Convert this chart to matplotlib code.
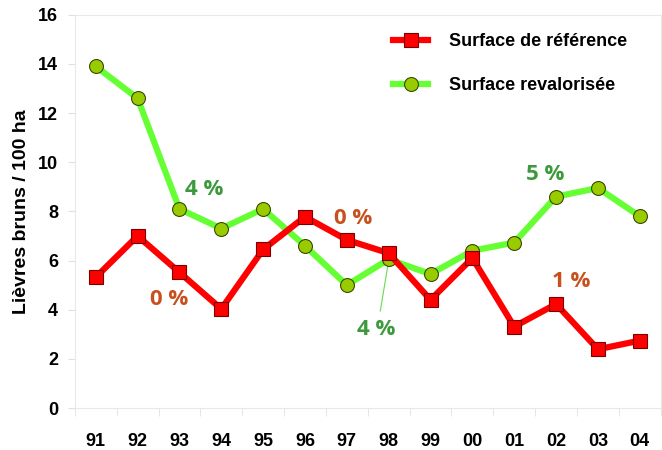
import matplotlib
matplotlib.use("Agg")
import matplotlib.pyplot as plt

# data
years = ['91', '92', '93', '94', '95', '96', '97', '98', '99', '00', '01', '02', '03', '04']
reference = [5.32, 7.0, 5.52, 4.03, 6.45, 7.78, 6.84, 6.3, 4.4, 6.1, 3.31, 4.23, 2.39, 2.74]
revalued = [13.9, 12.6, 8.1, 7.3, 8.1, 6.6, 5.0, 6.05, 5.45, 6.4, 6.73, 8.6, 8.95, 7.8]

# percentage labels: (text, x index, y value, colour)
pct_labels = [('4 %', 2.6, 8.9, '#3c9a3c'),
              ('0 %', 1.75, 4.4, '#c8501e'),
              ('0 %', 6.15, 7.7, '#c8501e'),
              ('4 %', 6.7, 3.2, '#3c9a3c'),
              ('5 %', 10.75, 9.5, '#3c9a3c'),
              ('1 %', 11.35, 5.15, '#c8501e')]

plt.rcParams['font.family'] = ['Liberation Sans', 'DejaVu Sans']

fig = plt.figure(figsize=(6.62, 4.5), dpi=100)
ax = fig.add_axes([0.113, 0.0933, 0.885, 0.874])

x = range(len(years))
ax.plot(x, reference, color='#ff0000', lw=4.5, marker='s', ms=10,
        mfc='#ff0000', mec='#7a0000', mew=0.8, label='Surface de référence', zorder=3)
ax.plot(x, revalued, color='#66ff33', lw=4.5, marker='o', ms=10,
        mfc='#99cc00', mec='#3a4a00', mew=0.8, label='Surface revalorisée', zorder=2)

for txt, xi, yi, col in pct_labels:
    ax.text(xi, yi, txt, color=col, fontsize=16, fontweight='bold',
            family=['Open Sans', 'DejaVu Sans'], ha='center', va='center')

# thin pointer from the 98 point to its label
ax.plot([7.0, 6.8], [6.0, 3.95], color='#66dd44', lw=0.8, zorder=1)

ax.set_xlim(-0.5, len(years) - 0.5)
ax.set_ylim(0, 16)
ax.set_yticks(range(0, 17, 2))
ax.set_xticks(x)
ax.set_xticklabels(years)
ax.set_xticks([i - 0.5 for i in range(len(years) + 1)], minor=True)
ax.tick_params(axis='x', which='major', length=0, pad=18)
ax.tick_params(axis='x', which='minor', length=6, color='#e0e0e0', direction='out')
ax.tick_params(axis='y', length=5, color='#e0e0e0', pad=7)
for lbl in ax.get_xticklabels() + ax.get_yticklabels():
    lbl.set_fontsize(13)
    lbl.set_fontweight('bold')

for side in ['left', 'right', 'top', 'bottom']:
    ax.spines[side].set_color('#e8e8e8')

ax.set_ylabel('Lièvres bruns / 100 ha', fontsize=14, fontweight='bold', labelpad=6)

leg = ax.legend(loc='upper right', frameon=False, fontsize=13, handlelength=1.9,
                handletextpad=1.2, labelspacing=1.5,
                bbox_to_anchor=(0.965, 0.985), borderaxespad=0.3)
for t in leg.get_texts():
    t.set_fontweight('bold')

fig.savefig('out.png', dpi=100)
